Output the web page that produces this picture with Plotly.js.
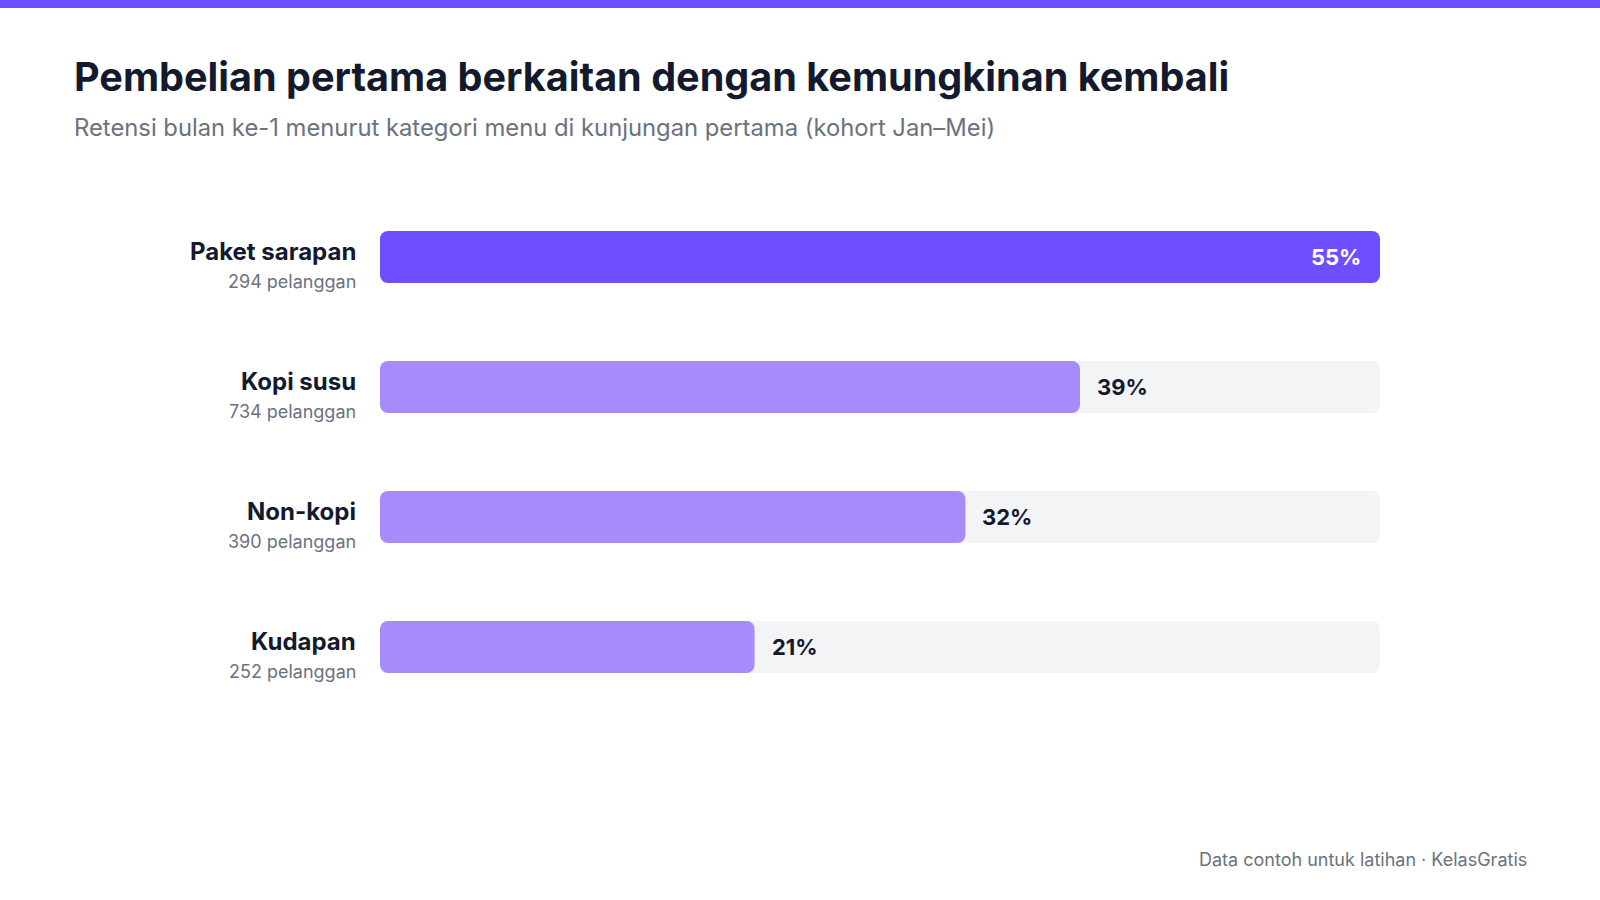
<!DOCTYPE html>
<html>
<head>
<meta charset="utf-8">
<script src="https://cdn.plot.ly/plotly-3.0.1.min.js"></script>
<style>
  html, body { margin: 0; padding: 0; background: #ffffff; }
  #chart { width: 1600px; height: 900px; }
</style>
</head>
<body>
<div id="chart"></div>
<script>
// ---- Data ----
const categories = ["Paket sarapan", "Kopi susu", "Non-kopi", "Kudapan"];
const retention = [55, 38.5, 32.2, 20.6];       // % retensi bulan ke-1 (bar length)
const retentionLabels = ["55%", "39%", "32%", "21%"];
const customers = [294, 734, 390, 252];         // jumlah pelanggan
const scaleMax = 55;                            // full track = 55%

const titleText = "Pembelian pertama berkaitan dengan kemungkinan kembali";
const subtitleText = "Retensi bulan ke-1 menurut kategori menu di kunjungan pertama (kohort Jan–Mei)";
const footerText = "Data contoh untuk latihan · KelasGratis";

// ---- Styling ----
const FONT = "Inter, 'Noto Sans', sans-serif";
const DARK = "#141A2E";
const GRAY = "#6B7280";
const ACCENT = "#6E4EFF";
const LIGHT = "#A78BFA";
const TRACK = "#F3F4F6";
const BW = 52 / 130;   // bar thickness as fraction of category band
const R = 8;

const maxVal = Math.max(...retention);
const barColors = retention.map(v => v === maxVal ? ACCENT : LIGHT);

// Each rounded bar = two overlapping halves: one rounded at the right end, one at the left end.
function roundedBar(values, color) {
  const right = {
    type: "bar", orientation: "h", y: categories,
    base: values.map(v => v * 0.3), x: values.map(v => v * 0.7),
    marker: { color: color, cornerradius: R, line: { width: 0 } },
    width: BW, hoverinfo: "skip", showlegend: false
  };
  const left = {
    type: "bar", orientation: "h", y: categories,
    base: values.map(v => v * 0.35), x: values.map(v => -v * 0.35),
    marker: { color: color, cornerradius: R, line: { width: 0 } },
    width: BW, hoverinfo: "skip", showlegend: false
  };
  return [right, left];
}

const traces = [
  ...roundedBar(categories.map(() => scaleMax), TRACK),
  ...roundedBar(retention, barColors)
];

// plot area: left 380, right 1380, top 192, bottom 712
const PT = 192, PB = 712, PH = PB - PT, PL = 380, PW = 1000;
const px = x => (x - PL) / PW;
const py = y => (PB - y) / PH;

const annotations = [];
categories.forEach((c, i) => {
  annotations.push({
    xref: "paper", yref: "y", x: 0, y: c, xshift: -22, yshift: 6,
    xanchor: "right", yanchor: "middle", showarrow: false,
    text: "<b>" + c + "</b>",
    font: { family: FONT, size: 24, color: DARK }
  });
  annotations.push({
    xref: "paper", yref: "y", x: 0, y: c, xshift: -22, yshift: -24,
    xanchor: "right", yanchor: "middle", showarrow: false,
    text: customers[i] + " pelanggan",
    font: { family: FONT, size: 18, color: GRAY }
  });
  const inside = retention[i] === maxVal;
  annotations.push({
    xref: "x", yref: "y", x: retention[i], y: c,
    xshift: inside ? -17 : 15,
    xanchor: inside ? "right" : "left", yanchor: "middle", showarrow: false,
    text: "<b>" + retentionLabels[i] + "</b>",
    font: { family: FONT, size: 22, color: inside ? "#ffffff" : DARK }
  });
});
annotations.push({
  xref: "paper", yref: "paper", x: px(72), y: py(77),
  xanchor: "left", yanchor: "middle", showarrow: false,
  text: "<b>" + titleText + "</b>",
  font: { family: FONT, size: 39.6, color: DARK }
});
annotations.push({
  xref: "paper", yref: "paper", x: px(72), y: py(127),
  xanchor: "left", yanchor: "middle", showarrow: false,
  text: subtitleText,
  font: { family: FONT, size: 23.8, color: GRAY }
});
annotations.push({
  xref: "paper", yref: "paper", x: px(1529), y: py(860),
  xanchor: "right", yanchor: "middle", showarrow: false,
  text: footerText,
  font: { family: FONT, size: 18, color: GRAY }
});

const layout = {
  width: 1600, height: 900,
  margin: { l: PL, r: 1600 - PL - PW, t: PT, b: 900 - PB, pad: 0 },
  paper_bgcolor: "#ffffff", plot_bgcolor: "#ffffff",
  barmode: "overlay",
  showlegend: false,
  xaxis: { range: [0, scaleMax], visible: false, fixedrange: true },
  yaxis: { type: "category", categoryorder: "array", categoryarray: categories,
           autorange: "reversed", visible: false, fixedrange: true },
  shapes: [{
    type: "rect", xref: "paper", yref: "paper",
    x0: px(0), x1: px(1600), y0: py(8), y1: py(0),
    fillcolor: ACCENT, line: { width: 0 }, layer: "above"
  }],
  annotations: annotations
};

Plotly.newPlot("chart", traces, layout, { displayModeBar: false, staticPlot: true });
</script>
</body>
</html>
